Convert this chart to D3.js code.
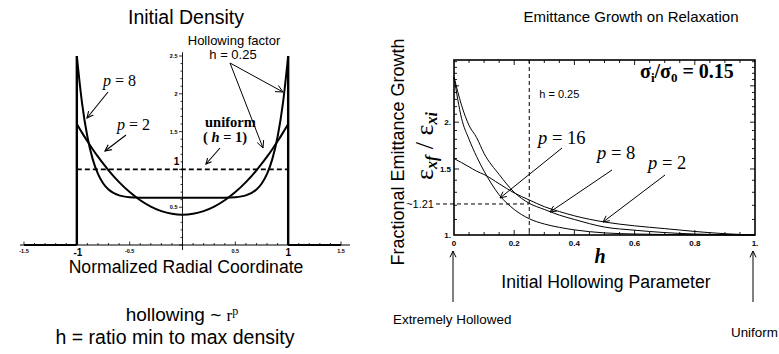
<!DOCTYPE html>
<html><head><meta charset="utf-8">
<script src="https://cdn.jsdelivr.net/npm/d3@7"></script>
<style>
html,body{margin:0;padding:0;background:#fff;}
svg{display:block;}
text{fill:#000;}
.sans{font-family:"Liberation Sans",Arial,Helvetica,sans-serif;}
.serif{font-family:"Liberation Serif","Times New Roman",serif;}
</style></head>
<body>
<svg id="c" width="779" height="354"></svg>
<script>
// ---------- Left chart data: initial density, h = 0.25 ----------
const radius = [-1,-0.95,-0.9,-0.85,-0.8,-0.75,-0.7,-0.6,-0.5,-0.4,-0.3,-0.2,-0.1,0,0.1,0.2,0.3,0.4,0.5,0.6,0.7,0.75,0.8,0.85,0.9,0.95,1];
const densityP2 = [1.6,1.483,1.372,1.267,1.168,1.075,0.988,0.832,0.70,0.592,0.508,0.448,0.412,0.40,0.412,0.448,0.508,0.592,0.70,0.832,0.988,1.075,1.168,1.267,1.372,1.483,1.6];
const densityP8 = [2.5,1.869,1.432,1.136,0.94,0.813,0.733,0.656,0.632,0.626,0.625,0.625,0.625,0.625,0.625,0.625,0.625,0.626,0.632,0.656,0.733,0.813,0.94,1.136,1.432,1.869,2.5];
const uniformLevel = 1;
const leftXTickLabels = ["-1.5","-0.5","0.5","1.5"];
const leftXTickValues = [-1.5,-0.5,0.5,1.5];
const leftYTickLabels = ["2.5","2","1.5","0.5"];
const leftYTickValues = [2.5,2,1.5,0.5];

// ---------- Right chart data: emittance growth vs h ----------
const hollowH = [0,0.025,0.05,0.075,0.1,0.15,0.2,0.25,0.3,0.35,0.4,0.5,0.6,0.7,0.8,0.9,1.0];
const growthP2  = [1.60,1.56,1.52,1.48,1.45,1.37,1.295,1.24,1.19,1.155,1.125,1.083,1.058,1.04,1.022,1.008,1.0];
const growthP8  = [2.64,2.22,1.96,1.82,1.65,1.45,1.30,1.215,1.17,1.13,1.10,1.05,1.03,1.015,1.006,1.002,1.0];
const growthP16 = [2.64,2.05,1.80,1.62,1.48,1.28,1.17,1.105,1.07,1.048,1.032,1.013,1.006,1.003,1.001,1.0,1.0];
const rightXTickValues = [0,0.2,0.4,0.6,0.8,1];
const rightXTickLabels = ["0","0.2","0.4","0.6","0.8","1."];
const rightYTickValues = [1,1.5,2];
const rightYTickLabels = ["1.","1.5","2."];
const markH = 0.25, markGrowth = 1.21;

const svg = d3.select("#c");

function arrow(g, x1, y1, x2, y2, len, w) {
  len = len || 7; w = w || 1;
  const a = Math.atan2(y2 - y1, x2 - x1);
  g.append("line").attr("x1",x1).attr("y1",y1).attr("x2",x2).attr("y2",y2)
    .attr("stroke","#000").attr("stroke-width",w);
  const s = 0.45;
  g.append("path")
    .attr("d", `M${x2 - len*Math.cos(a - s)},${y2 - len*Math.sin(a - s)}L${x2},${y2}L${x2 - len*Math.cos(a + s)},${y2 - len*Math.sin(a + s)}`)
    .attr("fill","none").attr("stroke","#000").attr("stroke-width",w);
}

// ================= LEFT CHART =================
const L = svg.append("g");
const xL = d3.scaleLinear().domain([-1.5,1.5]).range([24,341]);
const yL = d3.scaleLinear().domain([0,2.5]).range([245,56]);

L.append("text").attr("class","sans").attr("x",186).attr("y",24).attr("text-anchor","middle")
  .attr("font-size",19.5).text("Initial Density");

// x axis
L.append("line").attr("x1",20).attr("x2",350).attr("y1",yL(0)).attr("y2",yL(0)).attr("stroke","#000").attr("stroke-width",1.2);
d3.range(-15,16).forEach(i => {
  const v = i/10, major = (i % 5 === 0);
  L.append("line").attr("x1",xL(v)).attr("x2",xL(v)).attr("y1",yL(0)).attr("y2",yL(0)-(major?3.5:2))
    .attr("stroke","#000").attr("stroke-width",0.8);
});
leftXTickValues.forEach((v,i) => {
  L.append("text").attr("class","sans").attr("x",xL(v)).attr("y",yL(0)+8).attr("text-anchor","middle")
    .attr("font-size",5.5).attr("font-weight","bold").text(leftXTickLabels[i]);
});
L.append("text").attr("class","sans").attr("x",xL(-1)+1).attr("y",yL(0)+11).attr("text-anchor","middle")
  .attr("font-size",10).attr("font-weight","bold").text("-1");
L.append("text").attr("class","sans").attr("x",xL(1)).attr("y",yL(0)+11).attr("text-anchor","middle")
  .attr("font-size",10).attr("font-weight","bold").text("1");

// y axis
L.append("line").attr("x1",xL(0)).attr("x2",xL(0)).attr("y1",yL(2.55)).attr("y2",yL(0)+5).attr("stroke","#000").attr("stroke-width",0.9);
d3.range(0,26).forEach(i => {
  const v = i/10, major = (i % 5 === 0);
  L.append("line").attr("x1",xL(0)-(major?3.5:2)).attr("x2",xL(0)).attr("y1",yL(v)).attr("y2",yL(v))
    .attr("stroke","#000").attr("stroke-width",0.8);
});
leftYTickValues.forEach((v,i) => {
  L.append("text").attr("class","sans").attr("x",xL(0)-5).attr("y",yL(v)+2).attr("text-anchor","end")
    .attr("font-size",5.5).attr("font-weight","bold").text(leftYTickLabels[i]);
});
L.append("text").attr("class","sans").attr("x",xL(0)-6).attr("y",yL(1)-4).attr("text-anchor","middle")
  .attr("font-size",10).attr("font-weight","bold").text("1");

// zero density outside the beam
L.append("line").attr("x1",xL(-1.5)).attr("x2",xL(-1)).attr("y1",yL(0)).attr("y2",yL(0)).attr("stroke","#000").attr("stroke-width",2.2);
L.append("line").attr("x1",xL(1)).attr("x2",xL(1.5)).attr("y1",yL(0)).attr("y2",yL(0)).attr("stroke","#000").attr("stroke-width",2.2);
// edges
[-1,1].forEach(v => {
  L.append("line").attr("x1",xL(v)).attr("x2",xL(v)).attr("y1",yL(0)).attr("y2",yL(d3.max(densityP8)))
    .attr("stroke","#000").attr("stroke-width",2.4);
});
// uniform
L.append("line").attr("x1",xL(-1)).attr("x2",xL(1)).attr("y1",yL(uniformLevel)).attr("y2",yL(uniformLevel))
  .attr("stroke","#000").attr("stroke-width",1.8).attr("stroke-dasharray","5,3");

const lineL = d3.line().x((d,i) => xL(radius[i])).y(d => yL(d)).curve(d3.curveMonotoneX);
[densityP2, densityP8].forEach(arr => {
  L.append("path").attr("d", lineL(arr)).attr("fill","none").attr("stroke","#000").attr("stroke-width",2);
});

// annotations left
L.append("text").attr("class","serif").attr("x",103).attr("y",86).attr("font-size",16)
  .html('<tspan font-style="italic">p</tspan> = 8');
arrow(L, 108, 92, 87, 118, 7, 1.1);
L.append("text").attr("class","serif").attr("x",117).attr("y",130).attr("font-size",16)
  .html('<tspan font-style="italic">p</tspan> = 2');
arrow(L, 126, 135, 105, 151, 7, 1.1);
L.append("text").attr("class","serif").attr("x",205).attr("y",127).attr("font-size",14.5).attr("font-weight","bold").text("uniform");
L.append("text").attr("class","serif").attr("x",203).attr("y",142).attr("font-size",14.5).attr("font-weight","bold")
  .html('( <tspan font-style="italic">h</tspan> = 1)');
arrow(L, 220, 148, 206, 164, 6, 1.1);
L.append("text").attr("class","sans").attr("x",234).attr("y",45).attr("text-anchor","middle").attr("font-size",13).text("Hollowing factor");
L.append("text").attr("class","sans").attr("x",233).attr("y",59).attr("text-anchor","middle").attr("font-size",13).text("h = 0.25");
arrow(L, 230, 63, 283, 92, 8, 1);
arrow(L, 230, 63, 263, 148, 8, 1);

L.append("text").attr("class","sans").attr("x",186).attr("y",273).attr("text-anchor","middle").attr("font-size",17.6).text("Normalized Radial Coordinate");
L.append("text").attr("class","sans").attr("x",182).attr("y",321).attr("text-anchor","middle").attr("font-size",19)
  .html('hollowing ~ <tspan font-family="Liberation Serif" font-size="17">r</tspan><tspan font-family="Liberation Serif" font-size="12" dy="-6">p</tspan>');
L.append("text").attr("class","sans").attr("x",175).attr("y",344).attr("text-anchor","middle").attr("font-size",19.5).text("h = ratio min to max density");

// ================= RIGHT CHART =================
const R = svg.append("g");
const xR = d3.scaleLinear().domain([0,1]).range([454,755]);
const yR = d3.scaleLog().domain([1,2.93]).range([235,60]);

R.append("text").attr("class","sans").attr("x",631).attr("y",22).attr("text-anchor","middle").attr("font-size",15).text("Emittance Growth on Relaxation");

// box
R.append("rect").attr("x",xR(0)).attr("y",yR(2.93)).attr("width",xR(1)-xR(0)).attr("height",yR(1)-yR(2.93))
  .attr("fill","none").attr("stroke","#000").attr("stroke-width",1.6);
// x ticks (inside, top and bottom)
d3.range(1,20).forEach(i => {
  const v = i/20, major = (i % 4 === 0);
  const l = major ? 5 : 3;
  R.append("line").attr("x1",xR(v)).attr("x2",xR(v)).attr("y1",yR(1)).attr("y2",yR(1)-l).attr("stroke","#000").attr("stroke-width",0.9);
  R.append("line").attr("x1",xR(v)).attr("x2",xR(v)).attr("y1",yR(2.93)).attr("y2",yR(2.93)+l).attr("stroke","#000").attr("stroke-width",0.9);
});
// y ticks (inside, left and right)
d3.range(11,30).forEach(i => {
  const v = i/10, major = (i % 5 === 0);
  const l = major ? 5 : 3;
  R.append("line").attr("x1",xR(0)).attr("x2",xR(0)+l).attr("y1",yR(v)).attr("y2",yR(v)).attr("stroke","#000").attr("stroke-width",0.9);
  R.append("line").attr("x1",xR(1)).attr("x2",xR(1)-l).attr("y1",yR(v)).attr("y2",yR(v)).attr("stroke","#000").attr("stroke-width",0.9);
});
rightXTickValues.forEach((v,i) => {
  R.append("text").attr("class","sans").attr("x",xR(v)).attr("y",246).attr("text-anchor","middle")
    .attr("font-size",8).attr("font-weight","bold").text(rightXTickLabels[i]);
});
rightYTickValues.forEach((v,i) => {
  R.append("text").attr("class","sans").attr("x",xR(0)-3).attr("y",yR(v)+3).attr("text-anchor","end")
    .attr("font-size",8).attr("font-weight","bold").text(rightYTickLabels[i]);
});
R.append("text").attr("class","sans").attr("x",xR(0)-20).attr("y",yR(markGrowth)+4).attr("text-anchor","end")
  .attr("font-size",11).text("~1.21");

// markers
R.append("line").attr("x1",xR(markH)).attr("x2",xR(markH)).attr("y1",yR(2.93)).attr("y2",yR(1))
  .attr("stroke","#000").attr("stroke-width",1).attr("stroke-dasharray","4,3");
R.append("line").attr("x1",xR(0)-18).attr("x2",xR(markH)).attr("y1",yR(markGrowth)).attr("y2",yR(markGrowth))
  .attr("stroke","#000").attr("stroke-width",1).attr("stroke-dasharray","4,3");
R.append("text").attr("class","sans").attr("x",xR(markH)+10).attr("y",98).attr("font-size",11).text("h = 0.25");

const lineR = d3.line().x((d,i) => xR(hollowH[i])).y(d => yR(d)).curve(d3.curveMonotoneX);
[growthP2, growthP8, growthP16].forEach(arr => {
  R.append("path").attr("d", lineR(arr)).attr("fill","none").attr("stroke","#000").attr("stroke-width",1);
});

R.append("text").attr("class","serif").attr("x",640).attr("y",78).attr("font-size",20).attr("font-weight","bold")
  .html('σ<tspan font-size="13" dy="4">i</tspan><tspan dy="-4">/σ</tspan><tspan font-size="13" dy="4">0</tspan><tspan dy="-4"> = 0.15</tspan>');

R.append("text").attr("class","serif").attr("x",538).attr("y",144).attr("font-size",18.5)
  .html('<tspan font-style="italic">p</tspan> = 16');
arrow(R, 562, 148, 500, 198, 7, 1);
R.append("text").attr("class","serif").attr("x",597).attr("y",159).attr("font-size",18.5)
  .html('<tspan font-style="italic">p</tspan> = 8');
arrow(R, 612, 170, 550, 212, 7, 1);
R.append("text").attr("class","serif").attr("x",648).attr("y",169).attr("font-size",18.5)
  .html('<tspan font-style="italic">p</tspan> = 2');
arrow(R, 665, 175, 603, 222, 7, 1);

// y axis titles
R.append("text").attr("class","sans").attr("transform","translate(404,152) rotate(-90)").attr("text-anchor","middle")
  .attr("font-size",18).text("Fractional Emittance Growth");
R.append("text").attr("class","serif").attr("transform","translate(433,146) rotate(-90)").attr("text-anchor","middle")
  .attr("font-size",26)
  .html('ε<tspan font-size="16" font-style="italic" font-weight="bold" dy="4">xf</tspan><tspan dy="-4"> / ε</tspan><tspan font-size="16" font-style="italic" font-weight="bold" dy="4">xi</tspan>');

R.append("text").attr("class","serif").attr("x",600).attr("y",263).attr("text-anchor","middle")
  .attr("font-size",20).attr("font-style","italic").attr("font-weight","bold").text("h");
R.append("text").attr("class","sans").attr("x",606).attr("y",288).attr("text-anchor","middle").attr("font-size",17.6).text("Initial Hollowing Parameter");

arrow(R, 453, 302, 453, 251, 7, 1);
arrow(R, 753, 302, 753, 251, 7, 1);
R.append("text").attr("class","sans").attr("x",393).attr("y",324).attr("font-size",13.4).text("Extremely  Hollowed");
R.append("text").attr("class","sans").attr("x",731).attr("y",337).attr("font-size",13.4).text("Uniform");
</script>
</body></html>
